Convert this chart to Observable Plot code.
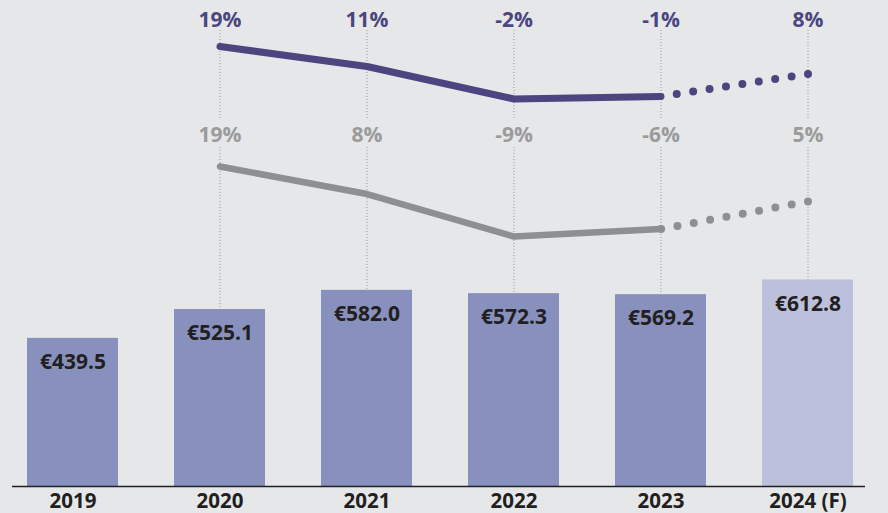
<!DOCTYPE html>
<html>
<head>
<meta charset="utf-8">
<script src="https://cdn.jsdelivr.net/npm/d3@7"></script>
<script src="https://cdn.jsdelivr.net/npm/@observablehq/plot@0.6"></script>
<style>
  html, body { margin: 0; padding: 0; background: #e6e7e9; }
  svg { font-family: "Open Sans", sans-serif; }
</style>
</head>
<body>
<div id="chart"></div>
<script>
// ---- data ----
const years = ["2019", "2020", "2021", "2022", "2023", "2024 (F)"];
const totals = [439.5, 525.1, 582.0, 572.3, 569.2, 612.8];
const forecast = [false, false, false, false, false, true];
const lineYears = ["2020", "2021", "2022", "2023", "2024 (F)"];
const darkPct = [19, 11, -2, -1, 8];
const grayPct = [19, 8, -9, -6, 5];

// ---- colours ----
const BAR = "#8890bd", BAR_F = "#bcc0dc", DARK = "#4b4580", GRAY = "#8e8f92", GRAY_TXT = "#9b9b9b", INK = "#231f20";

// secondary (percentage) layout mapped onto the main y domain
const PCT_K = 7.418;
const darkY = v => 1164.6 + PCT_K * v;
const grayY = v => 808.5 + PCT_K * v;
const DARK_LABEL_Y = 1382.6, GRAY_LABEL_Y = 1042.9;
const RULE_TOP = 1353, RULE_MID1 = 1086, RULE_MID2 = 1006;

const bars = years.map((y, i) => ({year: y, value: totals[i], forecast: forecast[i]}));
const pts = lineYears.map((y, i) => ({year: y, dark: darkPct[i], gray: grayPct[i], value: totals[years.indexOf(y)]}));
const solid = pts.slice(0, 4);
const dotted = pts.slice(3, 5).reverse(); // start dots at the forecast end

const fmt = v => "€" + v.toFixed(1);
const pct = v => v + "%";

const chart = Plot.plot({
  width: 888,
  height: 513,
  marginTop: 0,
  marginBottom: 27,
  marginLeft: 0,
  marginRight: 8,
  style: {background: "#e6e7e9", fontFamily: "Open Sans, sans-serif"},
  x: {domain: years, paddingInner: 0.384, paddingOuter: 0.17},
  y: {domain: [0, 1442], axis: null},
  color: {type: "identity"},
  marks: [
    Plot.barY(bars, {x: "year", y: "value", fill: d => d.forecast ? BAR_F : BAR}),
    Plot.ruleX(pts, {x: "year", y1: RULE_TOP, y2: RULE_MID1, stroke: "#9a9a9a", strokeWidth: 1, strokeDasharray: "1 2"}),
    Plot.ruleX(pts, {x: "year", y1: RULE_MID2, y2: "value", stroke: "#9a9a9a", strokeWidth: 1, strokeDasharray: "1 2"}),
    Plot.ruleY([0], {stroke: INK, strokeWidth: 1.5, insetLeft: 12, insetRight: 15}),
    Plot.line(solid, {x: "year", y: d => darkY(d.dark), stroke: DARK, strokeWidth: 7, strokeLinecap: "round", strokeLinejoin: "round"}),
    Plot.line(dotted, {x: "year", y: d => darkY(d.dark), stroke: DARK, strokeWidth: 8, strokeLinecap: "round", strokeDasharray: "0 16.6"}),
    Plot.line(solid, {x: "year", y: d => grayY(d.gray), stroke: GRAY, strokeWidth: 6.5, strokeLinecap: "round", strokeLinejoin: "round"}),
    Plot.line(dotted, {x: "year", y: d => grayY(d.gray), stroke: GRAY, strokeWidth: 8, strokeLinecap: "round", strokeDasharray: "0 16.6"}),
    Plot.text(pts, {x: "year", y: DARK_LABEL_Y, text: d => pct(d.dark), fill: DARK, fontSize: 21, fontWeight: "bold"}),
    Plot.text(pts, {x: "year", y: GRAY_LABEL_Y, text: d => pct(d.gray), fill: GRAY_TXT, fontSize: 21, fontWeight: "bold"}),
    Plot.text(bars, {x: "year", y: "value", text: d => fmt(d.value), dy: 24, fill: INK, fontSize: 21, fontWeight: "bold"}),
    Plot.axisX({tickSize: 0, tickPadding: 7, fontSize: 20.5, fontWeight: "bold", fill: INK, label: null})
  ]
});
document.getElementById("chart").appendChild(chart);
</script>
</body>
</html>
